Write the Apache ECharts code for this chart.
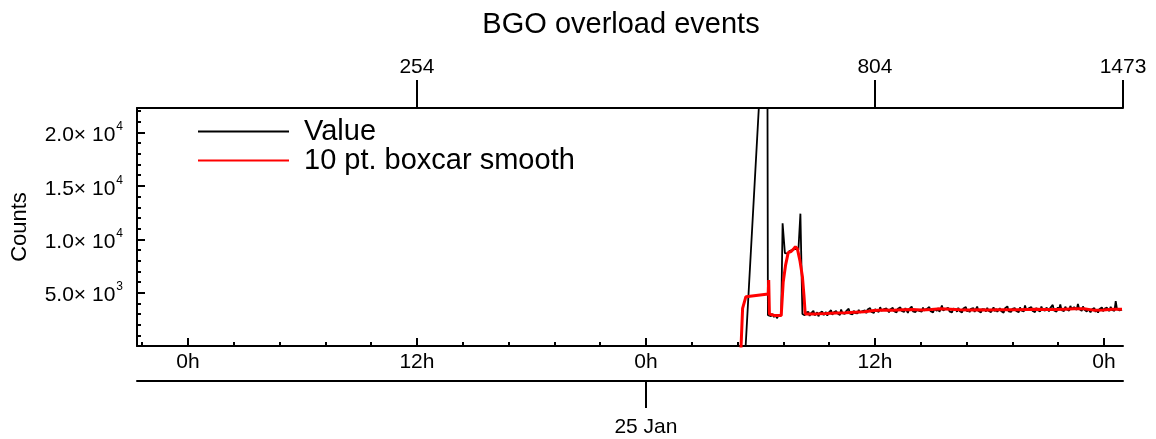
<!DOCTYPE html>
<html><head><meta charset="utf-8">
<script src="https://cdn.jsdelivr.net/npm/echarts@6/dist/echarts.min.js"></script>
<style>html,body{margin:0;padding:0;background:#fff}#c{width:1156px;height:439px}</style>
</head><body><div id="c"></div>
<script>
// Time values are hours since 24 Jan 00:00
const xMinHours = -2.6667;   // 23 Jan 21:20
const xMaxHours = 49;        // 26 Jan 01:00

const bottomTickHours = [0, 12, 24, 36, 48];
const bottomTickLabels = ['0h', '12h', '0h', '12h', '0h'];
const bottomMinorHours = [-2.4, 2.4, 4.8, 7.2, 9.6, 14.4, 16.8, 19.2, 21.6, 26.4, 28.8, 31.2, 33.6, 38.4, 40.8, 43.2, 45.6];
const dateTickHours = [24];
const dateTickLabels = ['25 Jan'];
const topTickHours = [12, 36, 49];
const topTickLabels = ['254', '804', '1473'];

const yTickValues = [5000, 10000, 15000, 20000];
const yTickMantissa = ['5.0', '1.0', '1.5', '2.0'];
const yTickExponent = ['3', '4', '4', '4'];
const yMinorValues = [1000, 2000, 3000, 4000, 6000, 7000, 8000, 9000, 11000, 12000, 13000, 14000, 16000, 17000, 18000, 19000, 21000, 22000];

// "Value" series: irregular start (spikes), then regular cadence
const valueHeadTimes = [28.664, 30.356, 30.393, 30.472, 30.551, 30.629, 30.708, 30.786, 30.865, 30.943, 31.022, 31.090, 31.163, 31.284, 31.363, 31.441, 31.520, 31.598, 31.677, 31.755, 31.834, 31.913, 31.991, 32.096, 32.201];
const valueHeadCounts = [-18200, 36500, 2900, 2950, 2800, 3000, 2700, 2950, 2600, 2850, 2750, 2900, 11500, 8700, 8800, 8650, 8900, 8750, 9000, 8850, 9100, 8950, 9000, 12400, 3000];
const valueFlatStart = 32.25;
const valueFlatStep = 0.066;
const valueFlatCounts = [
  3050, 2880, 3120, 2950, 3210, 2820, 3060, 2990, 3300, 2870, 3010, 3150, 2780, 3090, 2960, 3240, 2900, 3050, 3180, 2850, 3110, 3020, 3350, 2930,
  3140, 2990, 3280, 3060, 3190, 2910, 3420, 3080, 3150, 3000, 3260, 3120, 3500, 3040, 3180, 2950, 3310, 3090, 3210, 3060, 3380, 3130, 3000, 3270,
  3150, 3330, 3080, 3420, 3250, 3560, 3190, 3360, 3100, 3470, 3280, 3390, 3200, 3640, 3310, 3180, 3450, 3270, 3520, 3350, 3150, 3430, 3300, 3580,
  3260, 3410, 3150, 3490, 3330, 3620, 3280, 3400, 3200, 3550, 3370, 3100, 3460, 3310, 3700, 3250, 3420, 3180, 3380, 3530, 3290, 3450, 3220, 3600,
  3340, 3170, 3480, 3300, 3650, 3260, 3420, 3150, 3510, 3380, 3290, 3560, 3210, 3440, 3800, 3330, 3190, 3470, 3360, 3590, 3250, 3410, 3140, 3500,
  3320, 3450, 3210, 3580, 3290, 3390, 3130, 3520, 3350, 3660, 3240, 3430, 3180, 3480, 3310, 3550, 3200, 3370, 3690, 3280, 3410, 3150, 3460, 3340,
  3420, 3230, 3570, 3300, 3460, 3170, 3390, 3620, 3260, 3480, 3200, 3350, 3540, 3280, 3430, 3120, 3510, 3360, 3720, 3250, 3400, 3190, 3470, 3310,
  3560, 3280, 3450, 3170, 3610, 3340, 3490, 3230, 3800, 3380, 3260, 3530, 3410, 3650, 3290, 3460, 3180, 3580, 3350, 3470, 3240, 3700, 3390, 3520,
  3300, 3600, 3420, 3250, 3550, 3380, 3850, 3330, 3480, 3210, 3620, 3400, 3900, 3360, 3510, 3270, 3680, 3440, 3590, 3310, 3760, 3470, 3350, 3640,
  3520, 3380, 3950, 3460, 3600, 3290, 3710, 3410, 3540, 3230, 3480, 3350, 3160, 3420, 3280, 3560, 3200, 3390, 3120, 3450, 3300, 3620, 3250, 3480,
  3350, 3590, 3410, 3270, 3680, 3380, 3520, 3300, 4200, 3460, 3560, 3330, 3480, 3400
];

// "10 pt. boxcar smooth" series
const smoothTimes = [28.873, 29.067, 29.240, 30.409, 30.435, 30.472, 30.760, 31.090, 31.195, 31.321, 31.457, 31.598, 31.719, 31.834, 31.939, 32.070, 32.201, 32.280, 32.348,
  32.45, 32.95, 33.45, 33.95, 34.45, 34.95, 35.45, 35.95, 36.45, 36.95, 37.45, 37.95, 38.45, 38.95, 39.45, 39.95, 40.45, 40.95, 41.45, 41.95, 42.45, 42.95, 43.45, 43.95, 44.45, 44.95, 45.45, 45.95, 46.45, 46.95, 47.45, 47.95, 48.45, 48.95];
const smoothCounts = [-5000, 3530, 4620, 4870, 6190, 3000, 2850, 2850, 6000, 7600, 8750, 8850, 9050, 9300, 9100, 8000, 6500, 4800, 3000,
  2990, 3010, 3040, 3090, 3120, 3160, 3200, 3330, 3380, 3360, 3390, 3410, 3380, 3420, 3480, 3440, 3400, 3380, 3390, 3380, 3400, 3390, 3400, 3420, 3440, 3430, 3420, 3450, 3480, 3500, 3360, 3380, 3440, 3450];

const valueData = valueHeadTimes.map((t, i) => [t, valueHeadCounts[i]])
  .concat(valueFlatCounts.map((v, i) => [valueFlatStart + i * valueFlatStep, v]));
const smoothData = smoothTimes.map((t, i) => [t, smoothCounts[i]]);

const FONT = "'Liberation Sans', Arial, Helvetica, sans-serif";
const AX = { color: '#000', width: 2 };
const lab = { fontFamily: FONT, fontSize: 21, color: '#000' };
const lookup = (vals, labels) => v => { const i = vals.findIndex(x => Math.abs(x - v) < 1e-6); return i < 0 ? '' : labels[i]; };

const baseX = { type: 'value', min: xMinHours, max: xMaxHours, splitLine: { show: false }, gridIndex: 0 };
const baseY = { type: 'value', min: 0, max: 22300, splitLine: { show: false }, gridIndex: 0 };

const chart = echarts.init(document.getElementById('c'), null, { renderer: 'canvas' });
chart.setOption({
  animation: false,
  backgroundColor: '#fff',
  title: {
    text: 'BGO overload events', left: 621, top: 10, textAlign: 'center', padding: 0,
    textStyle: { fontFamily: FONT, fontSize: 29, fontWeight: 'normal', color: '#000' }
  },
  legend: {
    orient: 'vertical', left: 197, top: 117, itemWidth: 91, itemHeight: 28, itemGap: 0, padding: 0,
    selectedMode: false,
    lineStyle: { width: 2 },
    itemStyle: { opacity: 0 },
    textStyle: { fontFamily: FONT, fontSize: 29, color: '#000', padding: [0, 0, 0, 10] },
    data: ['Value', '10 pt. boxcar smooth']
  },
  grid: { left: 137, right: 33, top: 108, bottom: 93, containLabel: false, outerBoundsMode: 'none' },
  xAxis: [
    Object.assign({}, baseX, {
      position: 'bottom',
      axisLine: { show: true, onZero: false, lineStyle: AX },
      axisTick: { show: true, inside: true, length: 8, lineStyle: AX, customValues: bottomTickHours },
      axisLabel: Object.assign({ show: true, customValues: bottomTickHours, formatter: lookup(bottomTickHours, bottomTickLabels), margin: 6 }, lab)
    }),
    Object.assign({}, baseX, {
      position: 'bottom',
      axisLine: { show: false, onZero: false },
      axisTick: { show: true, inside: true, length: 4, lineStyle: AX, customValues: bottomMinorHours },
      axisLabel: { show: false }
    }),
    Object.assign({}, baseX, {
      position: 'top',
      axisLine: { show: true, onZero: false, lineStyle: AX },
      axisTick: { show: true, inside: false, length: 28, lineStyle: AX, customValues: topTickHours },
      axisLabel: Object.assign({ show: true, customValues: topTickHours, formatter: lookup(topTickHours, topTickLabels), margin: 30, showMaxLabel: true }, lab)
    }),
    Object.assign({}, baseX, {
      position: 'bottom', offset: 35,
      axisLine: { show: true, onZero: false, lineStyle: AX },
      axisTick: { show: true, inside: false, length: 27, lineStyle: AX, customValues: dateTickHours },
      axisLabel: Object.assign({ show: true, customValues: dateTickHours, formatter: lookup(dateTickHours, dateTickLabels), margin: 36 }, lab)
    })
  ],
  yAxis: [
    Object.assign({}, baseY, {
      position: 'left',
      axisLine: { show: true, onZero: false, lineStyle: AX },
      axisTick: { show: true, inside: true, length: 8, lineStyle: AX, customValues: yTickValues },
      axisLabel: {
        show: true, customValues: yTickValues, margin: 14,
        formatter: v => { const i = yTickValues.indexOf(v); return i < 0 ? '' : '{m|' + yTickMantissa[i] + '\u00d7 10}{e|' + yTickExponent[i] + '}'; },
        rich: {
          m: { fontFamily: FONT, fontSize: 21, color: '#000', padding: [6, 0, 0, 0] },
          e: { fontFamily: FONT, fontSize: 12, lineHeight: 12, color: '#000', padding: [2, 0, 0, 1], verticalAlign: 'top' }
        }
      }
    }),
    Object.assign({}, baseY, {
      position: 'left',
      axisLine: { show: false, onZero: false },
      axisTick: { show: true, inside: true, length: 4, lineStyle: AX, customValues: yMinorValues },
      axisLabel: { show: false }
    })
  ],
  graphic: [{
    type: 'text', x: 19.5, y: 227, rotation: Math.PI / 2,
    style: { text: 'Counts', fontFamily: FONT, fontSize: 22, fill: '#000', align: 'center', verticalAlign: 'middle' }
  }],
  series: [
    {
      name: 'Value', type: 'line', xAxisIndex: 0, yAxisIndex: 0, data: valueData,
      symbol: 'none', showSymbol: false, clip: true, z: 2,
      lineStyle: { color: '#000', width: 1.8 }, itemStyle: { color: '#000' }
    },
    {
      name: '10 pt. boxcar smooth', type: 'line', xAxisIndex: 0, yAxisIndex: 0, data: smoothData,
      symbol: 'none', showSymbol: false, clip: true, z: 3,
      lineStyle: { color: '#ff0000', width: 3 }, itemStyle: { color: '#ff0000' }
    }
  ]
});
</script>
</body></html>
